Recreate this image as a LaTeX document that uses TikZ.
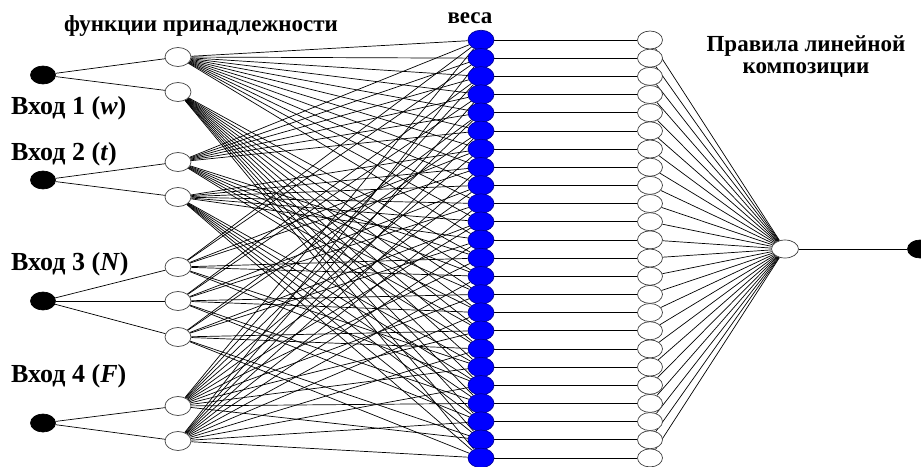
\documentclass[tikz,border=0pt]{standalone}
\usepackage{fontspec}
\setmainfont{Liberation Serif}
\usetikzlibrary{shapes.geometric,backgrounds}
\begin{document}
\begin{tikzpicture}[x=1pt,y=-1pt,
  node base/.style={ellipse, inner sep=0pt, line width=0.7pt},
  terminal/.style={node base, draw=black, fill=black, minimum width=25pt, minimum height=18pt},
  mfnode/.style={node base, draw=black!75, fill=white, minimum width=26pt, minimum height=19pt},
  weight/.style={node base, draw=black!40!blue, fill=blue, minimum width=26pt, minimum height=19.5pt},
  rulenode/.style={node base, draw=black!75, fill=white, minimum width=25pt, minimum height=18pt},
  link/.style={draw=black, line width=0.7pt},
  label/.style={font=\bfseries\fontsize{26}{30}\selectfont, inner sep=0pt},
  head/.style={font=\bfseries\fontsize{23}{27}\selectfont, inner sep=0pt, align=center}
]
\useasboundingbox (0,0) rectangle (921,466);
\clip (0,0) rectangle (921,466);

% inputs
\node[terminal] (in1) at (43,75) {};
\node[terminal] (in2) at (43,180) {};
\node[terminal] (in3) at (43,301) {};
\node[terminal] (in4) at (43,423) {};

% membership functions
\foreach \k/\yy in {0/57, 1/92, 2/162, 3/197, 4/267, 5/301, 6/337, 7/406, 8/441}
  \node[mfnode] (m\k) at (178,\yy) {};

% weights and rule nodes
\foreach \r in {0,...,23}{
  \pgfmathsetmacro\yy{40+\r*18.17}
  \node[weight] (b\r) at (481,\yy) {};
  \node[rulenode] (c\r) at (650,\yy) {};
}

% output
\node[rulenode, minimum width=27pt] (sum) at (785,249) {};
\node[terminal] (out) at (920,249) {};

\begin{pgfonlayer}{background}
  \draw[link] (in1) -- (m0);  \draw[link] (in1) -- (m1);
  \draw[link] (in2) -- (m2);  \draw[link] (in2) -- (m3);
  \draw[link] (in3) -- (m4);  \draw[link] (in3) -- (m5);  \draw[link] (in3) -- (m6);
  \draw[link] (in4) -- (m7);  \draw[link] (in4) -- (m8);
  \foreach \r in {0,...,23}{
    \pgfmathtruncatemacro\ia{div(\r,12)}
    \pgfmathtruncatemacro\ib{2+mod(div(\r,6),2)}
    \pgfmathtruncatemacro\ic{4+mod(div(\r,2),3)}
    \pgfmathtruncatemacro\id{7+mod(\r,2)}
    \draw[link] (m\ia) -- (b\r);
    \draw[link] (m\ib) -- (b\r);
    \draw[link] (m\ic) -- (b\r);
    \draw[link] (m\id) -- (b\r);
    \draw[link] (b\r) -- (c\r);
    \draw[link] (c\r) -- (sum);
  }
  \draw[link] (sum) -- (out);
\end{pgfonlayer}

% labels
\node[label, anchor=base west] (l1) at (11,114) {Вход 1 (\textit{w})};
\node[label, anchor=base west] (l2) at (11,160) {Вход 2 (\textit{t})};
\node[label, anchor=base west] (l3) at (11,270) {Вход 3 (\textit{N})};
\node[label, anchor=base west] (l4) at (11,382) {Вход 4 (\textit{F})};
\node[head, anchor=base] (h1) at (201,31) {функции принадлежности};
\node[head, anchor=base] (h2) at (470,23) {веса};
\node[head, anchor=base] (h3) at (806,51) {Правила линейной};
\node[head, anchor=base] (h4) at (806,73) {композиции};
\end{tikzpicture}
\end{document}
